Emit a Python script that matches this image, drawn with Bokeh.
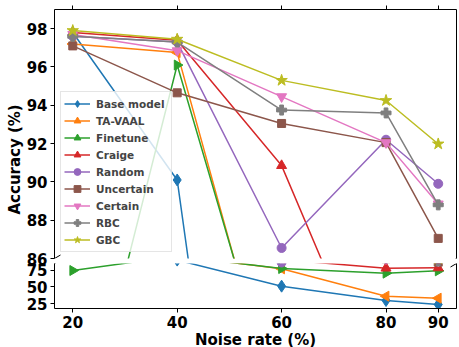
import math
from bokeh.plotting import figure
from bokeh.models import LinearAxis, FixedTicker, Range1d, Arrow, Title
from bokeh.layouts import column
from bokeh.embed import file_html
from bokeh.resources import INLINE

# ---- data ----
noise = [20, 40, 60, 80, 90]
x_ticks = [20, 40, 60, 80, 90]
top_y_ticks = [86, 88, 90, 92, 94, 96, 98]
bottom_y_ticks = [25, 50, 75]

names = ["Base model", "TA-VAAL", "Finetune", "Craige", "Random",
         "Uncertain", "Certain", "RBC", "GBC"]
base_model = [97.8, 90.1, 51.0, 29.5, 23.5]
ta_vaal = [97.2, 96.75, 77.0, 36.0, 33.0]
finetune = [74.5, 96.1, 77.5, 70.5, 74.0]
craige = [97.8, 97.4, 90.85, 78.0, 78.5]
random_sel = [97.6, 97.3, 86.55, 92.2, 89.9]
uncertain = [97.1, 94.65, 93.05, 92.05, 87.05]
certain = [97.7, 96.85, 94.45, 92.05, 88.85]
rbc = [97.6, 97.3, 93.75, 93.6, 88.8]
gbc = [97.9, 97.45, 95.3, 94.25, 91.98]
values = [base_model, ta_vaal, finetune, craige, random_sel,
          uncertain, certain, rbc, gbc]

colors = ["#1f77b4", "#ff7f0e", "#2ca02c", "#d62728", "#9467bd",
          "#8c564b", "#e377c2", "#7f7f7f", "#bcbd22"]
markers = ["diamond", "triangle", "triangle", "triangle", "circle",
           "square", "inverted_triangle", "plus", "star"]
angles = [0, math.pi / 2, -math.pi / 2, 0, 0, 0, 0, 0, 0]
sizes = [12, 10, 10, 10, 9, 8, 10, 10, 12]

# ---- layout constants ----
FW = 402
FH_TOP = 249
FH_BOT = 45
LEFT = 54
X0, X1 = 16.5, 93.5
TOP_Y = (86, 99)
BOT_Y = (17.5, 85)
FONT = "DejaVu Sans"
TICK_FS = "15px"

xr = Range1d(X0, X1)


def style_axes(p, yticks):
    p.grid.visible = False
    ya = p.yaxis[0]
    ya.ticker = FixedTicker(ticks=yticks)
    ya.major_label_text_font = FONT
    ya.major_label_text_font_style = "bold"
    ya.major_label_text_font_size = TICK_FS
    ya.major_label_text_color = "black"
    ya.major_tick_out = 4
    ya.major_tick_in = 0
    ya.minor_tick_line_color = None
    ya.major_label_standoff = 3
    ya.axis_line_color = "black"
    r = LinearAxis(major_tick_line_color=None, minor_tick_line_color=None,
                   major_label_text_font_size="1px",
                   major_label_text_color=None, major_label_standoff=0,
                   axis_line_color="black")
    p.add_layout(r, "right")


def plot_series(p, legend):
    for name, vals, c, m, a, s in zip(names, values, colors, markers, angles, sizes):
        kw = {"legend_label": name} if legend else {}
        p.line(noise, vals, line_color=c, line_width=1.5, **kw)
        p.scatter(noise, vals, marker=m, size=s, angle=a, fill_color=c,
                  line_color=c, **kw)


# ---- top panel ----
top = figure(frame_width=FW, frame_height=FH_TOP, x_range=xr,
             y_range=Range1d(*TOP_Y), x_axis_location="above",
             output_backend="svg", toolbar_location=None,
             min_border_left=LEFT, min_border_right=0, min_border_top=9,
             min_border_bottom=10, outline_line_color=None)
style_axes(top, top_y_ticks)
xa = top.xaxis[0]
xa.ticker = FixedTicker(ticks=x_ticks)
xa.major_label_text_font_size = "1px"
xa.major_label_text_color = None
xa.major_label_standoff = 0
xa.major_tick_out = 4
xa.major_tick_in = 0
xa.minor_tick_line_color = None
xa.axis_line_color = "black"
plot_series(top, True)

lg = top.legend[0]
lg.location = "bottom_left"
lg.margin = 6
lg.padding = 3
lg.spacing = 0
lg.label_text_font = FONT
lg.label_text_font_style = "bold"
lg.label_text_font_size = "10.5px"
lg.label_height = 17
lg.label_width = 72
lg.glyph_height = 17
lg.glyph_width = 26
lg.label_standoff = 6
lg.border_line_color = "#cccccc"
lg.background_fill_alpha = 0.8

# shared y-axis title, placed to sit across both panels
top.add_layout(Title(text="Accuracy (%)", align="left", offset=44,
                     text_font=FONT, text_font_style="bold",
                     text_font_size=TICK_FS, text_color="black",
                     standoff=0), "left")

# ---- bottom panel ----
bot = figure(frame_width=FW, frame_height=FH_BOT, x_range=xr,
             y_range=Range1d(*BOT_Y), x_axis_location="below",
             output_backend="svg", toolbar_location=None,
             min_border_left=LEFT, min_border_right=0, min_border_top=5,
             min_border_bottom=0, outline_line_color=None,
             border_fill_alpha=0, background_fill_alpha=0)
bot.margin = (-10, 0, 0, 0)
style_axes(bot, bottom_y_ticks)
xb = bot.xaxis[0]
xb.ticker = FixedTicker(ticks=x_ticks)
xb.major_label_text_font = FONT
xb.major_label_text_font_style = "bold"
xb.major_label_text_font_size = TICK_FS
xb.major_label_text_color = "black"
xb.major_label_standoff = 3
xb.major_tick_out = 4
xb.major_tick_in = 0
xb.minor_tick_line_color = None
xb.axis_line_color = "black"
xb.axis_label = "Noise rate (%)"
xb.axis_label_text_font = FONT
xb.axis_label_text_font_style = "bold"
xb.axis_label_text_font_size = TICK_FS
xb.axis_label_text_color = "black"
xb.axis_label_standoff = 0
plot_series(bot, False)

# ---- break marks ----
ux = (X1 - X0) / FW
uyt = (TOP_Y[1] - TOP_Y[0]) / FH_TOP
uyb = (BOT_Y[1] - BOT_Y[0]) / FH_BOT
for xc in (X0, X1):
    top.add_layout(Arrow(x_start=xc - 6 * ux, y_start=TOP_Y[0] - 3.5 * uyt,
                         x_end=xc + 6 * ux, y_end=TOP_Y[0] + 3.5 * uyt,
                         start=None, end=None, line_color="black", line_width=1))
    bot.add_layout(Arrow(x_start=xc - 6 * ux, y_start=BOT_Y[1] - 3.5 * uyb,
                         x_end=xc + 6 * ux, y_end=BOT_Y[1] + 3.5 * uyb,
                         start=None, end=None, line_color="black", line_width=1))

layout = column(top, bot, spacing=0)
open("out.html", "w").write(file_html(layout, INLINE))
